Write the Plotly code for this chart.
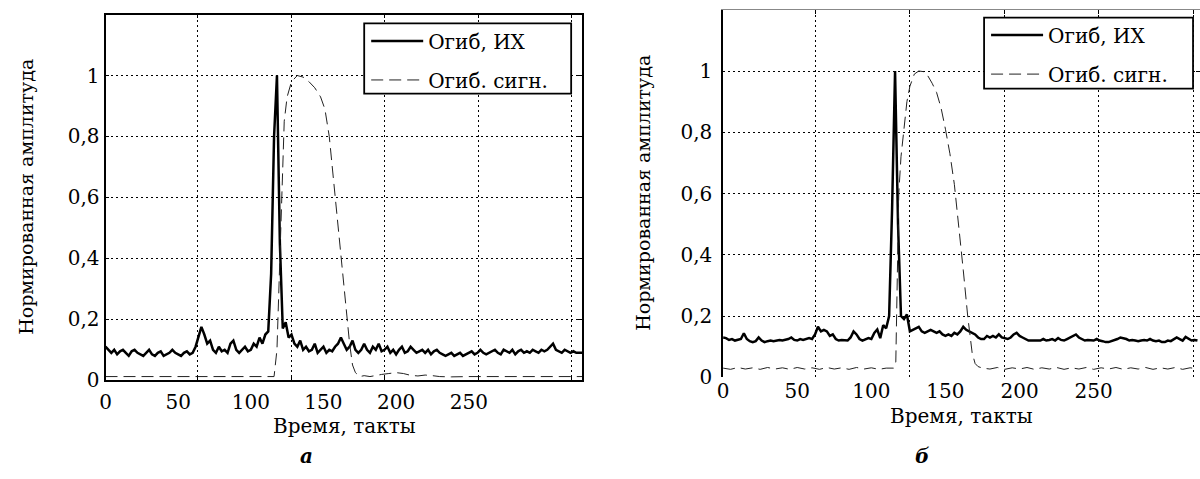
import plotly.graph_objects as go

# ---------------- data ----------------
# panel "а": impulse-response envelope, sampled every 2 clock ticks from 0
ih_a = [0.11, 0.1, 0.09, 0.1, 0.085, 0.095, 0.1, 0.09, 0.08, 0.095, 0.1,
        0.09, 0.085, 0.08, 0.09, 0.1, 0.085, 0.08, 0.09, 0.095, 0.08,
        0.085, 0.09, 0.1, 0.09, 0.085, 0.08, 0.09, 0.095, 0.085, 0.09,
        0.11, 0.14, 0.175, 0.15, 0.12,
        0.13, 0.1, 0.09, 0.11, 0.095, 0.1, 0.09, 0.12, 0.13, 0.1, 0.09, 0.1, 0.11, 0.095, 0.1,
        0.12, 0.11, 0.14, 0.12, 0.15, 0.16,
        0.35, 0.8, 1.0, 0.45, 0.17, 0.19, 0.14, 0.15, 0.12, 0.11, 0.13, 0.1,
        0.11, 0.095, 0.1, 0.12, 0.09, 0.1, 0.11, 0.09, 0.1, 0.095, 0.11, 0.12,
        0.14, 0.12, 0.1, 0.11, 0.13, 0.1, 0.09, 0.1,
        0.12, 0.1, 0.09, 0.11, 0.1, 0.12, 0.095, 0.1, 0.11, 0.09, 0.1, 0.085, 0.1, 0.11,
        0.09, 0.095, 0.11, 0.1, 0.09, 0.095, 0.1, 0.09,
        0.1, 0.085, 0.095, 0.1, 0.09, 0.085, 0.08, 0.085, 0.09, 0.08, 0.085, 0.09, 0.08,
        0.085, 0.09, 0.095, 0.085, 0.09, 0.1, 0.09,
        0.085, 0.09, 0.095, 0.1, 0.09, 0.085, 0.1, 0.095, 0.09, 0.1, 0.085, 0.095, 0.1,
        0.09, 0.095, 0.09, 0.1, 0.095, 0.09, 0.1,
        0.095, 0.1, 0.11, 0.12, 0.1, 0.095, 0.09, 0.1, 0.095, 0.09, 0.095, 0.09, 0.09, 0.09]
ih_a_t = list(range(0, 2 * len(ih_a), 2))

# panel "а": signal envelope
sig_a_t = [0, 116, 118, 119.5, 121, 123, 125, 128, 132, 136, 140, 144, 148, 151, 154,
           157, 160, 163, 166, 168, 170, 172, 175, 178, 182, 186, 190, 195, 200, 205,
           210, 215, 220, 225, 230, 238, 250, 328]
sig_a = [0.012, 0.012, 0.1, 0.35, 0.6, 0.85, 0.93, 0.98, 1.0, 0.995, 0.98, 0.96, 0.93, 0.89, 0.8,
         0.65, 0.5, 0.36, 0.22, 0.12, 0.05, 0.025, 0.012, 0.015, 0.012, 0.016, 0.019, 0.022, 0.025, 0.022,
         0.016, 0.014, 0.017, 0.015, 0.012, 0.011, 0.012, 0.012]

# panel "б": impulse-response envelope, sampled every 2 clock ticks from 0
ih_b = [0.13, 0.128, 0.122, 0.125, 0.12, 0.122, 0.125, 0.144, 0.125, 0.118, 0.115,
        0.118, 0.13, 0.12, 0.115, 0.118, 0.12, 0.118, 0.12, 0.122, 0.12,
        0.122, 0.125, 0.13, 0.122, 0.12, 0.125, 0.122, 0.125, 0.128, 0.125,
        0.14, 0.165, 0.15, 0.155, 0.15, 0.135, 0.14, 0.125, 0.12, 0.122,
        0.12, 0.12, 0.13, 0.15, 0.14, 0.125, 0.12, 0.125, 0.128, 0.125,
        0.145, 0.156, 0.128, 0.17, 0.16, 0.2,
        0.55, 1.0, 0.5, 0.2, 0.19, 0.205, 0.15, 0.155, 0.16, 0.165, 0.15, 0.145,
        0.15, 0.155, 0.15, 0.145, 0.15, 0.14, 0.135, 0.14, 0.135, 0.145, 0.14, 0.15,
        0.165, 0.155, 0.15, 0.145, 0.14, 0.13, 0.125, 0.125,
        0.135, 0.13, 0.135, 0.13, 0.14, 0.13, 0.128, 0.125, 0.13, 0.14, 0.145,
        0.135, 0.13, 0.125, 0.12, 0.12, 0.12, 0.122, 0.12, 0.125, 0.12, 0.122,
        0.125, 0.12, 0.128, 0.122, 0.12, 0.125, 0.13, 0.135, 0.14, 0.13,
        0.125, 0.12, 0.122, 0.12, 0.12, 0.125, 0.12, 0.118, 0.115, 0.115,
        0.118, 0.12, 0.125, 0.13, 0.128, 0.125, 0.12, 0.122, 0.12, 0.118,
        0.12, 0.122, 0.12, 0.125, 0.12, 0.118, 0.12, 0.115, 0.115, 0.12,
        0.118, 0.125, 0.13, 0.125, 0.12, 0.132, 0.125, 0.12, 0.122, 0.12]
ih_b_t = list(range(0, 2 * len(ih_b), 2))

# panel "б": signal envelope
sig_b_t = [0, 5, 10, 15, 20, 25, 30, 35, 40, 45, 50, 55, 60, 65, 70, 75, 80, 85, 90, 95,
           100, 105, 110, 115, 116.5, 117.5, 118.5, 120, 122, 124, 126, 129, 132, 135,
           138, 141, 144, 147, 150, 153, 156, 159, 162, 165, 168, 170, 172, 175,
           180, 185, 190, 195, 200, 205, 210, 215, 220, 225, 230, 235, 240, 245, 250,
           255, 260, 265, 270, 275, 280, 285, 290, 295, 300, 305, 310, 315, 320]
sig_b = [0.03, 0.026, 0.032, 0.027, 0.031, 0.026, 0.032, 0.027, 0.031, 0.026, 0.032, 0.027,
         0.031, 0.026, 0.032, 0.027, 0.031, 0.026, 0.032, 0.027, 0.031, 0.026, 0.03, 0.03,
         0.05, 0.3, 0.6, 0.72, 0.8, 0.9, 0.95, 0.99, 1.0, 0.998,
         0.985, 0.96, 0.93, 0.88, 0.81, 0.73, 0.63, 0.5, 0.35, 0.2, 0.08, 0.045, 0.035, 0.03,
         0.027, 0.032, 0.026, 0.031, 0.027, 0.032, 0.026, 0.031, 0.027, 0.032, 0.026, 0.031,
         0.027, 0.032, 0.026, 0.031, 0.027, 0.032, 0.026, 0.031, 0.027, 0.032, 0.026, 0.031,
         0.027, 0.032, 0.026, 0.031, 0.028]

x_tickvals = [0, 50, 100, 150, 200, 250]
x_ticktext = ["0", "50", "100", "150", "200", "250"]
y_tickvals = [0, 0.2, 0.4, 0.6, 0.8, 1.0]
y_ticktext = ["0", "0,2", "0,4", "0,6", "0,8", "1"]
y_grid = [0.2, 0.4, 0.6, 0.8, 1.0]
x_grid_a = [63.5, 127.9, 192.3, 256.4, 320.8]
x_grid_b = [62.1, 125.9, 189.6, 253.3, 317.0]

name_ih = "Огиб, ИХ"
name_sig = "Огиб. сигн."
x_title = "Время, такты"
y_title = "Нормированная амплитуда"

# ---------------- figure ----------------
W, H = 1200, 479
FONT = "DejaVu Serif"
DASH_COL = "#222"

fig = go.Figure()
fig.add_trace(go.Scatter(x=ih_a_t, y=ih_a, mode="lines", name=name_ih,
                         line=dict(color="black", width=2.5), xaxis="x", yaxis="y",
                         legend="legend", legendgroup="a1"))
fig.add_trace(go.Scatter(x=sig_a_t, y=sig_a, mode="lines", name=name_sig,
                         line=dict(color=DASH_COL, width=1, dash="12px,6px"), xaxis="x", yaxis="y",
                         legend="legend", legendgroup="a2"))
fig.add_trace(go.Scatter(x=ih_b_t, y=ih_b, mode="lines", name=name_ih,
                         line=dict(color="black", width=2.5), xaxis="x2", yaxis="y2",
                         legend="legend2", legendgroup="b1"))
fig.add_trace(go.Scatter(x=sig_b_t, y=sig_b, mode="lines", name=name_sig,
                         line=dict(color=DASH_COL, width=1, dash="12px,6px"), xaxis="x2", yaxis="y2",
                         legend="legend2", legendgroup="b2"))
# empty traces so that the grid/frame overlay axes get drawn
for xa, ya in [("x3", "y"), ("x", "y3"), ("x4", "y2"), ("x2", "y4")]:
    fig.add_trace(go.Scatter(x=[], y=[], xaxis=xa, yaxis=ya, showlegend=False,
                             hoverinfo="skip", mode="lines"))

dom_xa = [100 / W, 579 / W]
dom_ya = [1 - 390 / H, 1 - 15 / H]
dom_xb = [720.7 / W, 1.0]
dom_yb = [1 - 387 / H, 1 - 10 / H]
rng_a = [0, 328]
rng_b = [0, 321.7]
tickfont = dict(family=FONT, size=20, color="black")
griddash = "2px,3px"

fig.update_layout(
    width=W, height=H, margin=dict(l=0, r=0, t=0, b=0),
    paper_bgcolor="white", plot_bgcolor="white",
    font=dict(family=FONT, size=20, color="black"),
    # panel а
    xaxis=dict(domain=dom_xa, range=rng_a, anchor="y", tickvals=x_tickvals, ticktext=x_ticktext,
               showgrid=False, zeroline=False, showline=False, ticks="", tickfont=tickfont,
               ticklabelstandoff=8),
    yaxis=dict(domain=dom_ya, range=[0, 1.2], anchor="x", tickvals=y_tickvals, ticktext=y_ticktext,
               showgrid=False, zeroline=False, showline=False, ticks="", tickfont=tickfont,
               ticklabelstandoff=5),
    xaxis3=dict(domain=dom_xa, range=rng_a, anchor="y", overlaying="x", tickvals=x_grid_a,
                showticklabels=False, showgrid=True, gridcolor="black", gridwidth=1, griddash=griddash,
                zeroline=False, showline=True, linecolor="black", linewidth=1.5, mirror="ticks",
                ticks="inside", ticklen=4, tickcolor="black"),
    yaxis3=dict(domain=dom_ya, range=[0, 1.2], anchor="x", overlaying="y", tickvals=y_grid,
                showticklabels=False, showgrid=True, gridcolor="black", gridwidth=1, griddash=griddash,
                zeroline=False, showline=True, linecolor="black", linewidth=1.5, mirror="ticks",
                ticks="inside", ticklen=4, tickcolor="black"),
    # panel б
    xaxis2=dict(domain=dom_xb, range=rng_b, anchor="y2", tickvals=x_tickvals, ticktext=x_ticktext,
                showgrid=False, zeroline=False, showline=False, ticks="", tickfont=tickfont,
                ticklabelstandoff=0),
    yaxis2=dict(domain=dom_yb, range=[0, 1.2], anchor="x2", tickvals=y_tickvals, ticktext=y_ticktext,
                showgrid=False, zeroline=False, showline=True, linecolor="black", linewidth=1.5,
                ticks="", tickfont=tickfont, ticklabelstandoff=5),
    xaxis4=dict(domain=dom_xb, range=rng_b, anchor="y2", overlaying="x2", side="top",
                tickvals=x_grid_b, showticklabels=False, showgrid=True, gridcolor="black",
                gridwidth=1, griddash=griddash, zeroline=False, showline=True, linecolor="#888",
                linewidth=1, ticks="inside", ticklen=4, tickcolor="black"),
    yaxis4=dict(domain=dom_yb, range=[0, 1.2], anchor="x2", overlaying="y2", side="right",
                tickvals=y_grid, showticklabels=False, showgrid=True, gridcolor="black",
                gridwidth=1, griddash=griddash, zeroline=False, showline=True, linecolor="black",
                linewidth=1.5, ticks="inside", ticklen=4, tickcolor="black"),
    legend=dict(x=362 / W, y=1 - 22 / H, xanchor="left", yanchor="top", bgcolor="rgba(0,0,0,0)",
                borderwidth=0, font=dict(family=FONT, size=20, color="black"),
                traceorder="grouped", tracegroupgap=10, itemwidth=52),
    legend2=dict(x=985 / W, y=1 - 16 / H, xanchor="left", yanchor="top", bgcolor="rgba(0,0,0,0)",
                 borderwidth=0, font=dict(family=FONT, size=20, color="black"),
                 traceorder="grouped", tracegroupgap=10, itemwidth=52),
    showlegend=True,
)

# legend frames
for (x0, x1, y0, y1) in [(360, 568, 24, 96), (983, 1193, 18, 91)]:
    fig.add_shape(type="rect", xref="paper", yref="paper", x0=x0 / W, x1=x1 / W,
                  y0=1 - y1 / H, y1=1 - y0 / H, fillcolor="white",
                  line=dict(color="black", width=1.8), layer="above")

ann_font = dict(family=FONT, size=20, color="black")
annotations = [
    dict(text=y_title, x=20 / W, y=1 - 202 / H, textangle=-90, font=dict(family=FONT, size=19, color="black")),
    dict(text=y_title, x=640 / W, y=1 - 198 / H, textangle=-90, font=dict(family=FONT, size=19, color="black")),
    dict(text=x_title, x=340 / W, y=1 - 437 / H, font=ann_font),
    dict(text=x_title, x=960 / W, y=1 - 427 / H, font=ann_font),
    dict(text="<b><i>а</i></b>", x=302 / W, y=1 - 468 / H, font=ann_font),
    dict(text="<b><i>б</i></b>", x=921 / W, y=1 - 468 / H, font=ann_font),
]
for a in annotations:
    fig.add_annotation(xref="paper", yref="paper", showarrow=False, xanchor="center",
                       yanchor="middle", **a)

fig.write_html("out.html")
